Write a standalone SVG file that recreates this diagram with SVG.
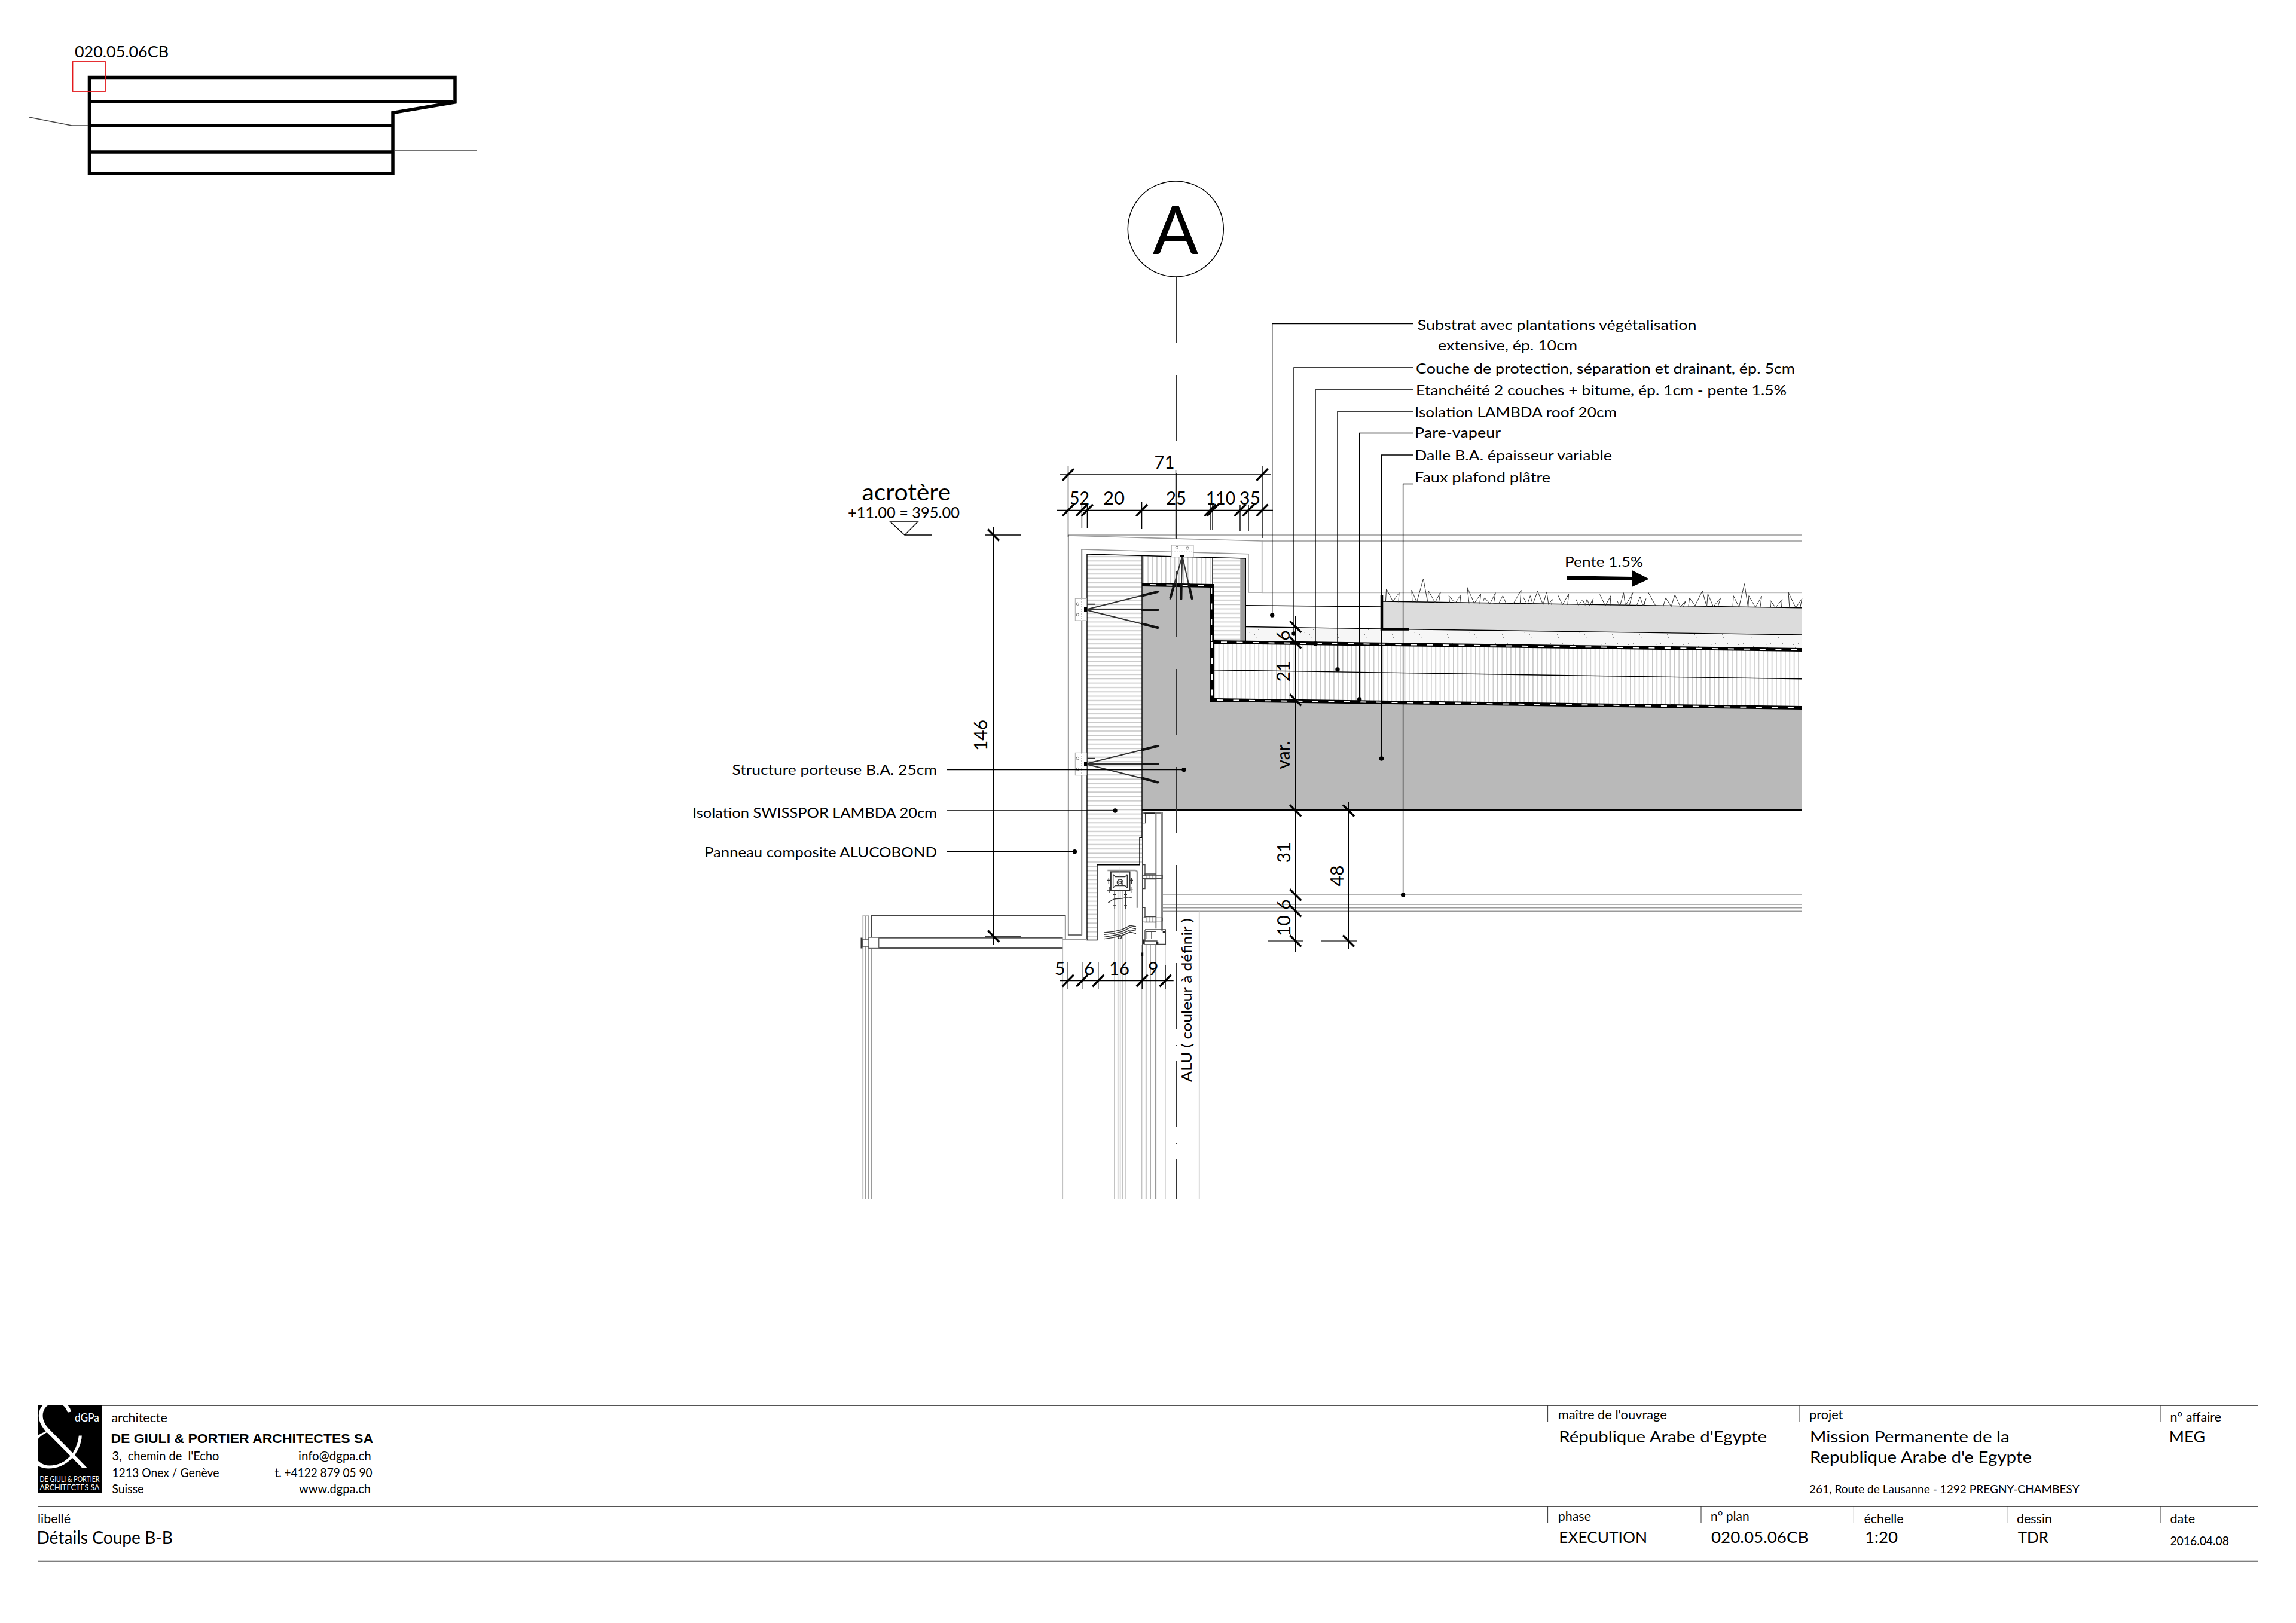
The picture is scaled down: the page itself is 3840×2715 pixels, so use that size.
<svg xmlns="http://www.w3.org/2000/svg" width="3840" height="2715" viewBox="0 0 3840 2715">
<defs>
<style>
text{font-family:"Lato","Carlito","Open Sans",sans-serif;fill:#000}
.d{font-size:30px}
.l{font-size:24px}
.s{font-size:21.500px}
.m{font-size:26.500px}
.thin{fill:none;stroke:#000;stroke-width:1.4}
.gr{fill:none;stroke:#9a9a9a;stroke-width:1.6}
.lg{fill:none;stroke:#c2c2c2;stroke-width:1.6}
.dk{fill:none;stroke:#444;stroke-width:1.6}
.ns{vector-effect:non-scaling-stroke}
.tb{stroke:#555;stroke-width:2;fill:none}
.anc{fill:none;stroke:#333;stroke-width:2}
.tip{fill:none;stroke:#111;stroke-width:4;stroke-linecap:round}
.bk{fill:#fff;stroke:#aaa;stroke-width:1}
.hole{fill:#fff;stroke:#777;stroke-width:1}
</style>
<path id="tk" d="M-9.5,9.7 L9.5,-9.7" stroke="#000" stroke-width="3.4" fill="none"/>
<path id="tv" d="M-9.5,-9.5 L9.5,9.5" stroke="#000" stroke-width="3.4" fill="none"/>
<circle id="dot" r="3" fill="#000"/>
<pattern id="hh" width="40" height="7.3" patternUnits="userSpaceOnUse"><rect width="40" height="7.3" fill="#fff"/><rect y="3" width="40" height="1.8" fill="#c8c8c8"/></pattern>
<pattern id="hv" width="7.4" height="40" patternUnits="userSpaceOnUse"><rect width="7.4" height="40" fill="#fff"/><rect x="3" width="1.2" height="40" fill="#b4b4b4"/></pattern>
<pattern id="st" width="46" height="28" patternUnits="userSpaceOnUse"><rect width="46" height="28" fill="#f6f6f6"/><g fill="#8a8a8a"><rect x="2" y="3" width="1" height="1"/><rect x="9" y="14" width="1.3" height="1"/><rect x="14" y="6" width="1" height="1"/><rect x="19" y="21" width="1" height="1.3"/><rect x="25" y="11" width="1" height="1"/><rect x="30" y="2" width="1.3" height="1"/><rect x="34" y="17" width="1" height="1"/><rect x="41" y="8" width="1" height="1"/><rect x="43" y="24" width="1" height="1"/><rect x="6" y="24" width="1" height="1"/><rect x="28" y="25" width="1" height="1"/><rect x="17" y="12" width="1" height="1"/><rect x="37" y="12" width="1" height="1"/><rect x="12" y="19" width="1" height="1"/></g></pattern>
<clipPath id="lc"><rect x="64" y="2350" width="106" height="147"/></clipPath>
</defs>
<rect width="3840" height="2715" fill="#fff"/>

<g id="key-plan">
<text x="125" y="96" class="m" textLength="157" lengthAdjust="spacingAndGlyphs">020.05.06CB</text>
<path d="M149.500,129.500 H761 V171 L657,188.500 V290 H149.500 Z M149.500,170 H758 M149.500,210 H657 M149.500,254 H657" fill="none" stroke="#000" stroke-width="5.500"/>
<rect x="121.500" y="103" width="54.500" height="50" fill="none" stroke="#e3191c" stroke-width="1.800"/>
<path class="dk" d="M49,196 L120,210 H147 M660,252 H797"/>
</g>

<g id="detail-fills">
<rect x="1818" y="927" width="92" height="519.600" fill="url(#hh)"/>
<rect x="1818" y="1446" width="17" height="126.500" fill="url(#hh)"/>
<path d="M1910,930 L2028,933 V980 L1910,978 Z" fill="url(#hv)"/>
<rect x="2028" y="933" width="46.300" height="139" fill="url(#hh)"/>
<path d="M2074.300,933 L2083.300,934 V1072 H2074.300 Z" fill="#9b9b9b"/>
<path d="M2083.300,1048 L2311,1052.500 L3013.600,1062 V1087 L2083.300,1074 Z" fill="url(#st)"/>
<path d="M2313,1006 L3013.600,1016.700 V1062 L2313,1052 Z" fill="#dcdcdc"/>
<path d="M2030,1075 L3013.600,1088 V1183 L2030,1170 Z" fill="url(#hv)"/>
<path d="M1910,978 L2027,980 V1172 L3013.600,1186 V1355 H1910 Z" fill="#b9b9b9"/>
</g>

<g id="membrane" fill="none">
<path d="M1910,978 L2027,980 V1074 L3013.600,1087 M2027,1074 V1171 L3013.600,1184" stroke="#000" stroke-width="6"/>
<path d="M1924,978 L2027,980 V1074 L3013.600,1087 M2027,1074 V1171 L3013.600,1184" stroke="#fff" stroke-width="2" stroke-dasharray="10 16.500"/>
</g>

<g id="detail-lines">
<path class="gr" d="M1787,895 H3013.600 M2110.700,905 H3013.600"/>
<path class="lg" d="M2110.700,991.500 H3013.600"/>
<path d="M1787,896 L2110.700,905 V991 H2088 V926.700 L1809.300,919" class="gr"/>
<path d="M1786.700,895 V1564 H1809.300 V919" class="dk"/>
<path d="M1809.300,919 V1564" class="gr"/>
<path d="M1818,927 L2083.300,934 V1072" class="thin" stroke-width="1.800"/>
<path class="thin" d="M1818,927 V1572.500 H1835 V1446.700 H1906 V1400.700 H1910 V930"/>
<path class="thin" d="M2028,933 V1072"/>
<path class="thin" d="M2083.300,1012.700 L2311,1015 M2083.300,1048.500 L2311,1052 M2357,1052.700 L3013.600,1062 M2313,1006 L3013.600,1016.700 M2027,1120.700 L3013.600,1135.700"/>
<path d="M1910,1355.500 H3013.600" stroke="#000" stroke-width="3" fill="none"/>
<path d="M2311,995 V1052.500 H2357" fill="none" stroke="#000" stroke-width="4.500"/>
<path class="gr" d="M1944,1497 H3013.600 M1944,1513 H3013.600 M1944,1518.700 H3013.600 M1944,1524.300 H3013.600"/>
<path class="lg" d="M1777.300,1568 V2005 M1863.800,1490 V2005 M1869.700,1490 V2005 M1873.600,1490 V2005 M1877.600,1490 V2005 M1882,1490 V2005 M1909.600,1580 V2005 M1948.800,1580 V2005 M2005.700,1524 V2005"/>
<path class="gr" d="M1916.700,1580 V2005 M1924,1580 V2005"/>
<path d="M1932.600,1580 V2005" fill="none" stroke="#999" stroke-width="3"/>
<path class="gr" d="M1443.300,1531.300 V2005 M1447.800,1531.300 V2005 M1452.500,1531.300 V2005 M1457.300,1531.300 V2005"/>
<path class="lg" d="M1443.300,1531.300 H1452.500"/>
</g>

<g id="balustrade">
<path class="dk" d="M1457.300,1568 V1531.300 H1781.700 V1571.700"/>
<path class="gr" d="M1777.300,1571.700 H1818" stroke-width="2.500"/>
<path d="M1470,1568.700 H1777.300 M1470,1586 H1777.300" fill="none" stroke="#555" stroke-width="2"/>
<rect x="1452.700" y="1568" width="17" height="18.500" fill="#fff" stroke="#666" stroke-width="1.500"/>
<rect x="1442" y="1572" width="11" height="11" fill="#fff" stroke="#555" stroke-width="1.500"/>
<rect x="1439.500" y="1568.500" width="3" height="18" fill="#333"/>
</g>

<g id="brackets">
<g id="bracket-top"><rect class="bk" x="1959.300" y="912" width="36.700" height="19.700"/><circle class="hole" cx="1968.300" cy="916.300" r="2.200"/><circle class="hole" cx="1986" cy="917" r="2.200"/><path d="M1960,923.300 H1995" stroke="#888" stroke-dasharray="2 2" fill="none"/>
<path class="anc" d="M1977.300,930 L1956.700,1003 M1977.300,930 L1975.300,1004 M1977.300,930 L1994,1004"/><path class="tip" d="M1964,977 L1957.500,1000 M1975.800,977 L1975.400,1002 M1988,977 L1993.500,1001"/><rect x="1974" y="928" width="7" height="4" fill="#000"/></g>
<g id="bracket-a"><rect class="bk" x="1798.300" y="1001.300" width="19" height="36.700"/><circle class="hole" cx="1802.300" cy="1010.300" r="2.200"/><circle class="hole" cx="1802.300" cy="1028.300" r="2.200"/><path d="M1809,1002 V1037" stroke="#888" stroke-dasharray="2 2" fill="none"/>
<path class="anc" d="M1815,1020 L1939,989 M1815,1020 H1939 M1815,1020 L1939,1050.700 M1818,1010.700 H1832"/><path class="tip" d="M1910,996.500 L1936,990 M1910,1020 H1937 M1910,1043.500 L1936,1050"/><rect x="1813" y="1016" width="5" height="8" fill="#000"/></g>
<g id="bracket-b"><rect class="bk" x="1798.300" y="1259.300" width="19" height="37.400"/><circle class="hole" cx="1802.300" cy="1268.600" r="2.200"/><circle class="hole" cx="1802.300" cy="1286.600" r="2.200"/><path d="M1809,1260 V1296" stroke="#888" stroke-dasharray="2 2" fill="none"/>
<path class="anc" d="M1815,1278 L1939,1247.300 M1815,1278 H1939 M1815,1278 L1939,1309 M1818,1268.700 H1832"/><path class="tip" d="M1910,1254.500 L1936,1248 M1910,1278 H1937 M1910,1301.500 L1936,1308.500"/><rect x="1813" y="1274" width="5" height="8" fill="#000"/></g>
</g>

<g id="mullion" transform="translate(1820,1350) scale(.33333)" fill="none">
<g stroke="#333" stroke-width="1.400">
<path class="ns" d="M113,325 H208 V418 H113 Z" stroke-width="2.400"/>
<path class="ns" d="M125,338 L135,350 H185 L196,338 M125,405 L135,395 H185 L196,405 M125,338 V405 M196,338 V405"/>
<circle class="ns" cx="160" cy="378" r="15"/><circle class="ns" cx="160" cy="378" r="7"/>
<path class="ns" d="M95,367 H113 M208,367 H225 M95,420 H113 M208,415 H225 M125,325 H196 M103,355 V385 M217,355 V385 M105,400 V430 M215,400 V430"/>
<path class="ns" d="M133,418 V510 M187,418 V510 M125,440 H140 M180,440 H195 M125,495 H140 M180,495 H195"/>
<path class="ns" d="M100,480 C120,470 120,458 160,460 C190,460 190,445 218,455"/>
<path class="ns" d="M80,630 L125,625 L170,615 L210,595 L240,600 M80,640 L125,635 L170,625 L210,605 L240,612 M80,652 L125,645 L170,635 L210,617 L240,622 M80,662 L125,655 L170,645 L210,627 L240,635"/>
<circle class="ns" cx="158" cy="652" r="9"/>
</g>
<path class="ns" d="M97,318 H235 Q246,318 246,330 V506" stroke="#999" stroke-width="2.500"/>
<path class="ns" d="M160,300 V418" stroke="#bbb" stroke-width="1"/>
</g>

<g id="window" transform="translate(1820,1350) scale(.33333)" fill="none">
<g stroke="#444" stroke-width="1.400">
<path class="ns" d="M272,30 V750 M287,30 V80 H272 M272,290 H285 V345 M272,410 H285 V360 M272,505 H285 V555 M272,30 H372"/>
<path class="ns" d="M340,28 V610" stroke="#777" stroke-width="2"/>
<path class="ns" d="M368,25 V620 M373,25 V620" stroke="#888"/>
<rect class="ns" x="272" y="342" width="100" height="16"/><rect class="ns" x="272" y="556" width="100" height="16"/>
<path class="ns" d="M283,336 H340 M283,362 H340 M283,550 H340 M283,578 H340 M295,340 V360 M310,340 V360 M325,340 V360 M295,552 V576 M310,552 V576 M325,552 V576"/>
<path class="ns" d="M285,615 H388 V688 H345 V672 H285 V615 M288,625 H340 M295,625 V660 M318,625 V660 M280,660 V690 H345"/>
</g>
<path class="ns" d="M283,32 H335" stroke="#222" stroke-width="2.500"/>
<path class="ns" d="M272,730 V750" stroke="#111" stroke-width="3"/>
<rect x="374" y="622" width="12" height="10" fill="#222"/>
<rect x="340" y="676" width="12" height="12" fill="#222"/>
<rect x="274" y="665" width="10" height="22" fill="#222"/>
</g>

<g id="grass" transform="translate(2100,880) scale(.61240,.33333)" fill="none" stroke="#333" stroke-width="1">
<path class="ns" d="M355,380 L357,315 375,378 392,335 390,382 M428,382 L426,322 440,382 458,265 470,384 472,325 490,384 505,330 500,385 M530,386 L528,350 545,387 560,345 558,387 M583,388 L578,308 597,388 615,340 612,389 M622,375 L625,360 640,390 655,335 650,390 665,385 675,350 685,392 M703,392 L725,322 722,393 M730,355 L742,393 750,350 757,393 770,327 785,394 795,330 800,394 810,368 808,395 M825,345 L838,395 855,342 852,396 M875,368 L882,397 893,370 900,397 905,368 912,398 922,365 918,398 M940,343 L955,400 970,350 968,400 M988,378 L995,400 1005,335 1010,400 1030,335 1020,402 M1040,402 L1050,355 1058,400 1066,365 1060,402 M1072,332 L1093,402 M1113,404 L1120,360 1135,404 1145,345 1160,405 1175,375 1168,405 M1182,404 L1185,360 1200,400 1220,325 1232,405 1235,340 1250,405 1270,360 1262,407 M1303,407 L1305,350 1320,407 1335,290 1345,408 1347,350 1365,408 1382,352 1378,408 M1407,408 L1405,372 1420,409 1438,368 1436,409 M1458,410 L1455,333 1475,410 1492,365 1487,410"/>
</g>

<g id="section-axis">
<circle cx="1966.300" cy="383" r="80" fill="#fff" stroke="#000" stroke-width="1.500"/>
<text x="1966" y="425" font-size="113" text-anchor="middle">A</text>
<path d="M1967,463 V2005" fill="none" stroke="#333" stroke-width="2" stroke-dasharray="110 27 1 26"/>
</g>

<g id="leaders" class="thin">
<path class="thin" d="M2363,541.600 H2127.700 V1029 M2363,615 H2164 V1060 M2363,652 H2200 V1077 M2363,688 H2237 V1120 M2363,724.500 H2273.700 V1170 M2363,761 H2310.500 V1269 M2363,809.500 H2346.600 V1497"/>
<path class="thin" d="M1583.700,1287.600 H1980 M1583.700,1356 H1865 M1583.700,1424.800 H1797.500"/>
<use href="#dot" x="2127.700" y="1029"/><use href="#dot" x="2164" y="1060"/><use href="#dot" x="2200" y="1077"/><use href="#dot" x="2237" y="1120"/><use href="#dot" x="2273.700" y="1170"/><use href="#dot" x="2310.500" y="1269"/><use href="#dot" x="2346.600" y="1497"/>
<use href="#dot" x="1980" y="1287.600"/><use href="#dot" x="1865" y="1356"/><use href="#dot" x="1797.500" y="1424.800"/>
</g>

<g id="dimensions">
<path class="thin" d="M1772,794 H2125 M1768,853.400 H2129 M1786.500,780 V898 M2111,780 V900 M1809.400,845 V883 M1818.400,845 V883 M1909.600,840 V885 M1966.500,786 V900 M2024,845 V887 M2028,845 V887 M2074,845 V889 M2088,845 V889"/>
<g><use href="#tk" x="1786.500" y="794"/><use href="#tk" x="2111" y="794"/><use href="#tk" x="1786.500" y="853.400"/><use href="#tk" x="1809.400" y="853.400"/><use href="#tk" x="1818.400" y="853.400"/><use href="#tk" x="1909.600" y="853.400"/><use href="#tk" x="2024" y="853.400"/><use href="#tk" x="2028" y="853.400"/><use href="#tk" x="2074" y="853.400"/><use href="#tk" x="2088" y="853.400"/><use href="#tk" x="2111" y="853.400"/></g>
<text x="1930.600" y="784" class="d" textLength="34" lengthAdjust="spacingAndGlyphs">71</text>
<text x="1789" y="844" class="d" textLength="33" lengthAdjust="spacingAndGlyphs">52</text>
<text x="1845" y="844" class="d" textLength="36" lengthAdjust="spacingAndGlyphs">20</text>
<text x="1950" y="844" class="d" textLength="34" lengthAdjust="spacingAndGlyphs">25</text>
<text x="2017" y="844" class="d" textLength="49" lengthAdjust="spacingAndGlyphs">110</text>
<text x="2073" y="844" class="d" textLength="35" lengthAdjust="spacingAndGlyphs">35</text>

<path class="thin" d="M2166.700,1030 V1592 M2255.500,1341 V1588 M1661.500,882 V1580"/>
<path class="dk" d="M2120,1574 H2180 M2210,1574 H2270" stroke-width="2"/>
<path class="thin" d="M1647,895 H1707 M1647,1566 H1707"/>
<use href="#tv" x="2166.700" y="1048.500"/><use href="#tv" x="2166.700" y="1075"/><use href="#tv" x="2166.700" y="1171"/><use href="#tv" x="2166.700" y="1356"/><use href="#tv" x="2166.700" y="1497"/><use href="#tv" x="2166.700" y="1524"/><use href="#tv" x="2166.700" y="1574"/><use href="#tv" x="2255.500" y="1356"/><use href="#tv" x="2255.500" y="1574"/><use href="#tv" x="1661.500" y="895"/><use href="#tv" x="1661.500" y="1566"/>
<g text-anchor="middle" class="d">
<text transform="translate(2157,1063) rotate(-90)" class="d">6</text>
<text transform="translate(2157,1123) rotate(-90)" class="d">21</text>
<text transform="translate(2157,1263) rotate(-90)" class="d">var.</text>
<text transform="translate(2158,1426) rotate(-90)" class="d">31</text>
<text transform="translate(2247,1465) rotate(-90)" class="d">48</text>
<text transform="translate(2158,1513) rotate(-90)" class="d">6</text>
<text transform="translate(2158,1548.500) rotate(-90)" class="d">10</text>
<text transform="translate(1651,1230) rotate(-90)" class="d">146</text>
</g>

<path class="thin" d="M1772.400,1640.500 H1962.700 M1786.200,1610 V1655 M1809.700,1610 V1655 M1836.700,1610 V1655 M1910.200,1594 V1655 M1949,1614 V1655"/>
<use href="#tk" x="1786.200" y="1640.500"/><use href="#tk" x="1809.700" y="1640.500"/><use href="#tk" x="1836.700" y="1640.500"/><use href="#tk" x="1910.200" y="1640.500"/><use href="#tk" x="1949" y="1640.500"/>
<text x="1764" y="1631" class="d">5</text><text x="1813" y="1631" class="d">6</text><text x="1855" y="1631" class="d" textLength="34" lengthAdjust="spacingAndGlyphs">16</text><text x="1920" y="1631" class="d">9</text>
<text transform="translate(1993,1810) rotate(-90)" class="l" textLength="274" lengthAdjust="spacingAndGlyphs">ALU ( couleur à définir )</text>
</g>

<g id="level">
<text x="1441.500" y="837" font-size="39" textLength="148.500" lengthAdjust="spacingAndGlyphs">acrotère</text>
<text x="1418" y="866.700" class="m" textLength="187" lengthAdjust="spacingAndGlyphs">+11.00 = 395.00</text>
<path class="thin" d="M1558,895 H1513 L1489,873 H1535 L1513,895" stroke-width="1"/>
</g>

<g id="labels" class="l">
<text x="2370.600" y="552" class="l" textLength="467" lengthAdjust="spacingAndGlyphs">Substrat avec plantations végétalisation</text>
<text x="2405" y="586" class="l" textLength="233" lengthAdjust="spacingAndGlyphs">extensive, ép. 10cm</text>
<text x="2368" y="625" class="l" textLength="634" lengthAdjust="spacingAndGlyphs">Couche de protection, séparation et drainant, ép. 5cm</text>
<text x="2368" y="661" class="l" textLength="620" lengthAdjust="spacingAndGlyphs">Etanchéité 2 couches + bitume, ép. 1cm - pente 1.5%</text>
<text x="2366" y="698" class="l" textLength="338" lengthAdjust="spacingAndGlyphs">Isolation LAMBDA roof 20cm</text>
<text x="2366" y="732" class="l" textLength="144" lengthAdjust="spacingAndGlyphs">Pare-vapeur</text>
<text x="2366" y="770" class="l" textLength="330" lengthAdjust="spacingAndGlyphs">Dalle B.A. épaisseur variable</text>
<text x="2366" y="807" class="l" textLength="227" lengthAdjust="spacingAndGlyphs">Faux plafond plâtre</text>
<text x="1224.500" y="1296" class="l" textLength="342.500" lengthAdjust="spacingAndGlyphs">Structure porteuse B.A. 25cm</text>
<text x="1158" y="1367.600" class="l" textLength="409" lengthAdjust="spacingAndGlyphs">Isolation SWISSPOR LAMBDA 20cm</text>
<text x="1178" y="1433.500" class="l" textLength="389" lengthAdjust="spacingAndGlyphs">Panneau composite ALUCOBOND</text>
<text x="2617" y="948" class="l" textLength="131" lengthAdjust="spacingAndGlyphs">Pente 1.5%</text>
<path d="M2620,963.300 L2729.500,965 V954 L2758,968.500 L2729.500,981.700 V970.500 L2620,970 Z" fill="#000"/>
</g>

<g id="title-block" transform="translate(0,1)">
<path class="tb" d="M101,2350 H3777" stroke-width="2.500"/>
<path class="tb" d="M64,2519 H3777 M64,2610.700 H3777"/>
<path d="M2588.600,2350 V2378 M3009,2350 V2378 M3613,2350 V2378 M2588.600,2519 V2547 M2845,2519 V2547 M3100.400,2519 V2547 M3356.700,2519 V2547 M3613,2519 V2547" fill="none" stroke="#333" stroke-width="1"/>
<g id="logo">
<rect x="64" y="2350" width="106" height="147" fill="#000"/>
<g clip-path="url(#lc)"><text x="38" y="2458" font-size="165" style="fill:#fff;stroke:#000;stroke-width:7;paint-order:normal">&amp;</text></g>
<text x="125" y="2376.700" font-size="20" style="fill:#fff" textLength="41" lengthAdjust="spacingAndGlyphs">dGPa</text>
<text x="66.500" y="2478" font-size="13.500" style="fill:#fff" textLength="100" lengthAdjust="spacingAndGlyphs">DE GIULI &amp; PORTIER</text>
<text x="66.500" y="2492" font-size="13.500" style="fill:#fff" textLength="100" lengthAdjust="spacingAndGlyphs">ARCHITECTES SA</text>
</g>
<g class="s">
<text x="186.400" y="2377.700" class="s" textLength="93.400" lengthAdjust="spacingAndGlyphs">architecte</text>
<text x="185.400" y="2412.700" font-size="22" font-weight="700" style="font-family:'Liberation Sans',Arial,sans-serif" textLength="438.600" lengthAdjust="spacingAndGlyphs">DE GIULI &amp; PORTIER ARCHITECTES SA</text>
<text x="187.400" y="2441.700" class="s" xml:space="preserve" textLength="179" lengthAdjust="spacingAndGlyphs">3,  chemin de  l'Echo</text>
<text x="187.400" y="2470" class="s" textLength="179" lengthAdjust="spacingAndGlyphs">1213 Onex / Genève</text>
<text x="187.400" y="2496.700" class="s" textLength="53" lengthAdjust="spacingAndGlyphs">Suisse</text>
<text x="499" y="2441.700" class="s" textLength="121.600" lengthAdjust="spacingAndGlyphs">info@dgpa.ch</text>
<text x="459.400" y="2470" class="s" textLength="163.200" lengthAdjust="spacingAndGlyphs">t. +4122 879 05 90</text>
<text x="500" y="2496.700" class="s" textLength="120" lengthAdjust="spacingAndGlyphs">www.dgpa.ch</text>
<text x="63" y="2546.700" class="s" textLength="55" lengthAdjust="spacingAndGlyphs">libellé</text>
<text x="61.400" y="2581.700" font-size="30" textLength="227.600" lengthAdjust="spacingAndGlyphs">Détails Coupe B-B</text>
<text x="2605.700" y="2373.300" class="s" textLength="182" lengthAdjust="spacingAndGlyphs">maître de l'ouvrage</text>
<text x="3026" y="2373.300" class="s" textLength="56.400" lengthAdjust="spacingAndGlyphs">projet</text>
<text x="3629.400" y="2376.700" class="s" textLength="85.600" lengthAdjust="spacingAndGlyphs">n° affaire</text>
<text x="2607.300" y="2411.700" class="m" textLength="347.700" lengthAdjust="spacingAndGlyphs">République Arabe d'Egypte</text>
<text x="3027" y="2411.700" class="m" textLength="333.800" lengthAdjust="spacingAndGlyphs">Mission Permanente de la</text>
<text x="3027" y="2446" class="m" textLength="371" lengthAdjust="spacingAndGlyphs">Republique Arabe d'e Egypte</text>
<text x="3627.800" y="2411.700" class="m" textLength="60.200" lengthAdjust="spacingAndGlyphs">MEG</text>
<text x="3026" y="2496.700" font-size="19" textLength="451.600" lengthAdjust="spacingAndGlyphs">261, Route de Lausanne - 1292 PREGNY-CHAMBESY</text>
<text x="2605.700" y="2542.700" class="s" textLength="55.300" lengthAdjust="spacingAndGlyphs">phase</text>
<text x="2861" y="2542.700" class="s" textLength="64.700" lengthAdjust="spacingAndGlyphs">n° plan</text>
<text x="3117.600" y="2546.700" class="s" textLength="66" lengthAdjust="spacingAndGlyphs">échelle</text>
<text x="3373" y="2546.700" class="s" textLength="59" lengthAdjust="spacingAndGlyphs">dessin</text>
<text x="3629.400" y="2546.700" class="s" textLength="41.600" lengthAdjust="spacingAndGlyphs">date</text>
<text x="2607.300" y="2580" class="m" textLength="147.700" lengthAdjust="spacingAndGlyphs">EXECUTION</text>
<text x="2862" y="2580" class="m" textLength="162.500" lengthAdjust="spacingAndGlyphs">020.05.06CB</text>
<text x="3119" y="2580" class="m" textLength="55" lengthAdjust="spacingAndGlyphs">1:20</text>
<text x="3374.700" y="2580" class="m" textLength="51.300" lengthAdjust="spacingAndGlyphs">TDR</text>
<text x="3629.400" y="2584.300" class="s" textLength="98.600" lengthAdjust="spacingAndGlyphs">2016.04.08</text>
</g>
</g>
</svg>
